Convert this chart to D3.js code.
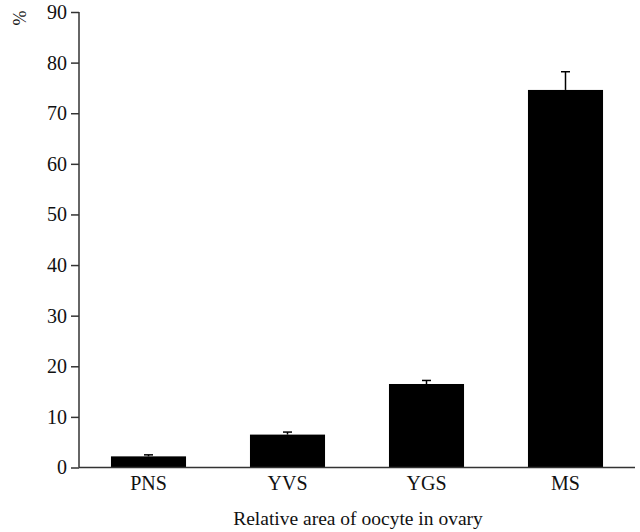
<!DOCTYPE html>
<html>
<head>
<meta charset="utf-8">
<title>Relative area of oocyte in ovary</title>
<script src="https://cdn.jsdelivr.net/npm/d3@7"></script>
<style>
  body { margin: 0; background: #fff; }
  text { font-family: "Liberation Serif", "Times New Roman", serif; fill: #111; }
</style>
</head>
<body>
<div id="chart"></div>
<script>
// data
var stages = ["PNS", "YVS", "YGS", "MS"];
var means = [2.2, 6.5, 16.5, 74.6];
var errs = [0.3, 0.5, 0.7, 3.6];
var yTicks = [0, 10, 20, 30, 40, 50, 60, 70, 80, 90];

var W = 640, H = 532;
var mLeft = 79, mRight = 635, mTop = 12, mBottom = 467.5;

var svg = d3.select("#chart").append("svg")
    .attr("width", W)
    .attr("height", H);

var x = d3.scaleBand()
    .domain(stages)
    .range([mLeft, mRight])
    .paddingInner(0.46)
    .paddingOuter(0.23);

var y = d3.scaleLinear()
    .domain([0, 90])
    .range([mBottom, mTop]);

// bars
svg.selectAll("rect.bar")
    .data(stages)
    .enter().append("rect")
    .attr("class", "bar")
    .attr("x", function(d) { return x(d); })
    .attr("width", x.bandwidth())
    .attr("y", function(d, i) { return y(means[i]); })
    .attr("height", function(d, i) { return y(0) - y(means[i]); })
    .attr("fill", "#000");

// error bars (upper only)
var cap = 4.5;
var eb = svg.selectAll("g.err")
    .data(stages)
    .enter().append("g")
    .attr("class", "err");
eb.append("line")
    .attr("x1", function(d) { return x(d) + x.bandwidth() / 2; })
    .attr("x2", function(d) { return x(d) + x.bandwidth() / 2; })
    .attr("y1", function(d, i) { return y(means[i]); })
    .attr("y2", function(d, i) { return y(means[i] + errs[i]); })
    .attr("stroke", "#000")
    .attr("stroke-width", 1.5);
eb.append("line")
    .attr("x1", function(d) { return x(d) + x.bandwidth() / 2 - cap; })
    .attr("x2", function(d) { return x(d) + x.bandwidth() / 2 + cap; })
    .attr("y1", function(d, i) { return y(means[i] + errs[i]); })
    .attr("y2", function(d, i) { return y(means[i] + errs[i]); })
    .attr("stroke", "#000")
    .attr("stroke-width", 1.5);

// y axis
var yAxis = svg.append("g")
    .attr("transform", "translate(" + mLeft + ",0)")
    .call(d3.axisLeft(y).tickValues(yTicks).tickSize(8).tickPadding(4));
yAxis.select(".domain").attr("d", "M0," + y(0) + "V" + y(90));

// x axis
var xAxis = svg.append("g")
    .attr("transform", "translate(0," + mBottom + ")")
    .call(d3.axisBottom(x).tickSize(0).tickPadding(8));
xAxis.select(".domain").attr("d", "M" + mLeft + ",0H" + mRight);

svg.selectAll(".domain, .tick line")
    .attr("stroke", "#333")
    .attr("stroke-width", 1.5);
svg.selectAll(".tick text")
    .style("font-family", "'Liberation Serif', 'Times New Roman', serif")
    .style("font-size", "20px")
    .attr("fill", "#111");

// axis titles
svg.append("text")
    .attr("x", 358)
    .attr("y", 525)
    .attr("text-anchor", "middle")
    .style("font-size", "19.5px")
    .text("Relative area of oocyte in ovary");

svg.append("text")
    .attr("transform", "translate(26,18) rotate(-90)")
    .attr("text-anchor", "middle")
    .style("font-size", "18px")
    .text("%");
</script>
</body>
</html>
